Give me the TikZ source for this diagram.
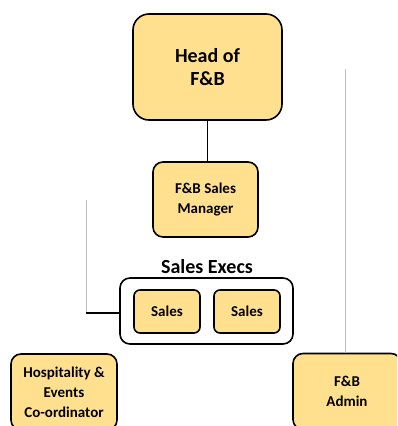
\documentclass[tikz,border=0pt]{standalone}
\usepackage{fontspec}
\setmainfont{Carlito}
\definecolor{rolefill}{HTML}{FFE08F}
\tikzset{
  role/.style={draw, line width=1.6pt, fill=rolefill, rounded corners=10pt, align=center,
    font=\bfseries\fontsize{15}{20}\selectfont, inner sep=0pt},
  guide/.style={draw=black!25, line width=1pt}
}
\begin{document}
\begin{tikzpicture}[x=1pt, y=-1pt]
		\useasboundingbox (0,0) rectangle (397,426);
		\clip (0,0) rectangle (397,426);
		% boxes
		\node[role, rounded corners=16pt, minimum width=149pt, minimum height=106pt,
		  font=\bfseries\fontsize{20}{23}\selectfont] (head) at (207.5,67) {Head of\\F\&B};
		\node[role, minimum width=105pt, minimum height=75pt] (mgr) at (205.5,199.5) {F\&B Sales\\Manager};
		\node[draw, line width=1.6pt, fill=white, rounded corners=10pt, minimum width=173pt,
		  minimum height=66pt] (execs) at (206.5,311) {};
		\node[font=\bfseries\fontsize{20}{23}\selectfont] (execlabel) at (207,267) {Sales Execs};
		\node[role, rounded corners=6pt, minimum width=66pt, minimum height=43pt] (exec1) at (167,311.5) {Sales};
		\node[role, rounded corners=6pt, minimum width=66pt, minimum height=43pt] (exec2) at (247,311.5) {Sales};
		\node[role, minimum width=106pt, minimum height=76pt] (hosp) at (64,392) {Hospitality \&\\Events\\Co-ordinator};
		\node[role, minimum width=108pt, minimum height=76pt] (admin) at (347,391.5) {F\&B\\Admin};
		% links
		\draw[line width=1.6pt] (head.south) -- (head.south |- mgr.north);
		\coordinate (hosptop) at (86,200);
		\coordinate (hospbend) at (86,313);
		\draw[guide] (hosptop) -- (hospbend);
		\draw[line width=1.6pt] (hospbend) -- (hospbend -| execs.west);
		\coordinate (admintop) at (345,69);
		\draw[guide] (admintop) -- (admintop |- admin.north);
	\end{tikzpicture}
\end{document}
